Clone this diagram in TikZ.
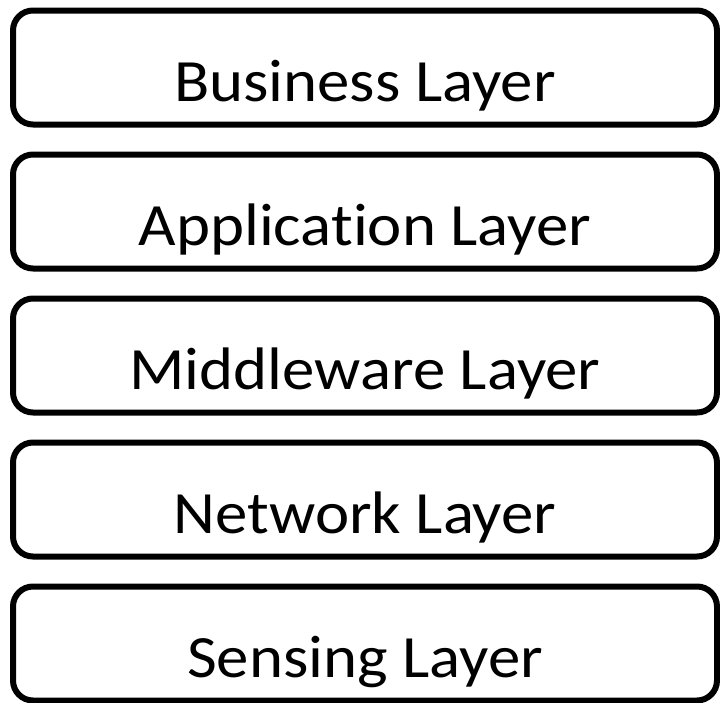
\documentclass[tikz,border=0pt]{standalone}
\usepackage{fontspec}
\setmainfont[Ligatures=NoCommon, FakeStretch=1.08]{Carlito}
\usetikzlibrary{positioning}

\begin{document}
\begin{tikzpicture}[x=1pt, y=1pt, node distance=24pt,
  layer/.style={draw=black, line width=6pt, rounded corners=20pt, minimum width=704pt, minimum height=114pt,
    text height=67pt, text depth=0pt, inner sep=0pt, font=\fontsize{60}{72}\selectfont}]
\useasboundingbox (0,0) rectangle (720,-702);
\node[layer] (business) at (365,-67.5) {Business Layer};
\node[layer, below=of business] (application) {Application Layer};
\node[layer, below=of application] (middleware) {Middleware Layer};
\node[layer, below=of middleware] (network) {Network Layer};
\node[layer, below=of network] (sensing) {Sensing Layer};
\end{tikzpicture}
\end{document}
